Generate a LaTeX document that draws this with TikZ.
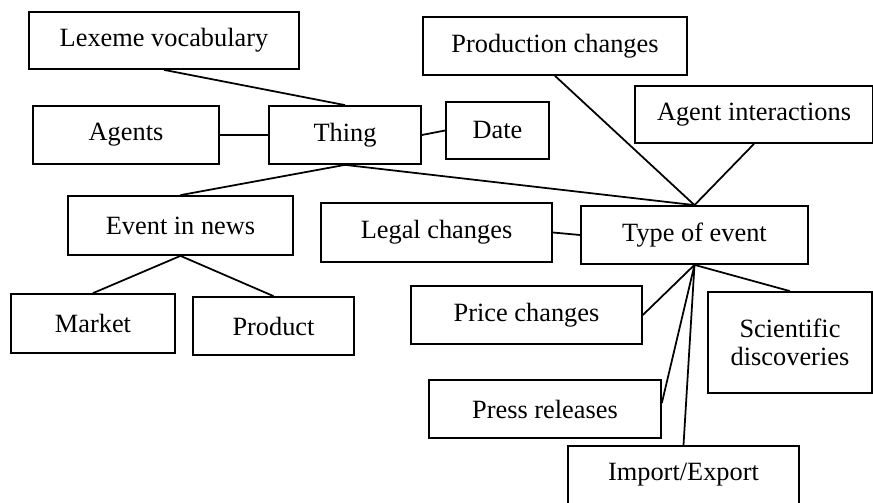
\documentclass[tikz,border=0pt]{standalone}
\usepackage{fontspec}
\setmainfont{Liberation Serif}
\usetikzlibrary{positioning}

\begin{document}
\begin{tikzpicture}[x=0.02cm, y=-0.02cm, line width=1pt,
  box/.style={draw, rectangle, inner sep=0pt, minimum height=1.16cm,
    font=\fontsize{15}{16}\selectfont, align=center}]
  \useasboundingbox (0,0) rectangle (873,503);

  % upper part
  \node[box, minimum width=5.40cm, minimum height=1.14cm] (lex) at (164,40.5) {Lexeme vocabulary};
  \node[box, minimum width=3.72cm] (agents) at (126,135) {Agents};
  \node[box, minimum width=3.04cm] (thing) at (345,135) {Thing};
  \node[box, minimum width=2.06cm, minimum height=1.14cm] (date) at (497.5,130.5) {Date};
  \node[box, minimum width=4.50cm, minimum height=1.18cm] (news) at (180.5,225.5) {Event in news};
  \node[box, minimum width=3.28cm, minimum height=1.18cm] (market) at (93,323.5) {Market};
  \node[box, minimum width=3.22cm] (product) at (273.5,326) {Product};

  % types of event
  \node[box, minimum width=5.28cm] (prodch) at (555,46) {Production changes};
  \node[box, minimum width=4.76cm, minimum height=1.14cm] (inter) at (754,114.5) {Agent interactions};
  \node[box, minimum width=4.54cm] (type) at (694.5,235) {Type of event};
  \node[box, minimum width=4.62cm, minimum height=1.18cm] (legal) at (436.5,232.5) {Legal changes};
  \node[box, minimum width=4.62cm] (price) at (526.5,315) {Price changes};
  \node[box, minimum width=3.28cm, minimum height=2.02cm] (sci) at (790,342.5) {Scientific\\discoveries};
  \node[box, minimum width=4.64cm] (press) at (545,409) {Press releases};
  \node[box, minimum width=4.62cm] (impexp) at (683.5,475) {Import/Export};

  \draw (lex.south) -- (thing.north);
  \draw (agents.east) -- (thing.west);
  \draw (thing.east) -- (date.west);
  \draw (thing.south) -- (news.north);
  \draw (thing.south) -- (type.north);
  \draw (news.south) -- (market.north);
  \draw (news.south) -- (product.north);

  \draw (prodch.south) -- (type.north);
  \draw (inter.south) -- (type.north);
  \draw (legal.east) -- (type.west);
  \draw (type.south) -- (price.east);
  \draw (type.south) -- (sci.north);
  \draw (type.south) -- ([yshift=0.12cm]press.east);
  \draw (type.south) -- (impexp.north);
\end{tikzpicture}
\end{document}
